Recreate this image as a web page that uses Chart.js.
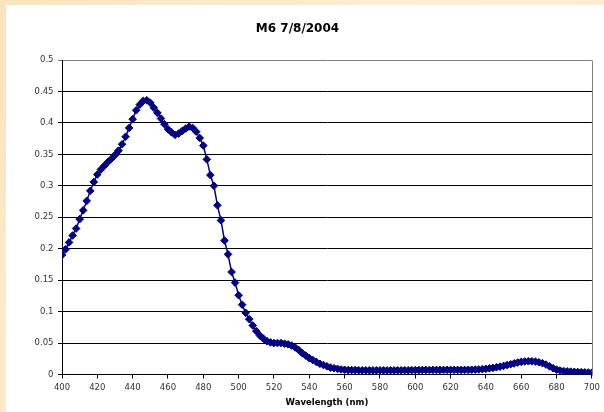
<!DOCTYPE html>
<html>
<head>
<meta charset="utf-8">
<script src="https://cdn.jsdelivr.net/npm/chart.js@4/dist/chart.umd.min.js"></script>
<style>
  html, body { margin: 0; padding: 0; background: #fbebcc; }
  #wrap { width: 604px; height: 412px; position: relative; }
  canvas { display: block; }
</style>
</head>
<body>
<div id="wrap"><canvas id="c" width="604" height="412"></canvas></div>
<script>
const chartTitle = "M6 7/8/2004";
const xAxisTitle = "Wavelength (nm)";

const wavelengths = [
  400,402,404,406,408,410,412,414,416,418,
  420,422,424,426,428,430,432,434,436,438,
  440,442,444,446,448,450,452,454,456,458,
  460,462,464,466,468,470,472,474,476,478,
  480,482,484,486,488,490,492,494,496,498,
  500,502,504,506,508,510,512,514,516,518,
  520,522,524,526,528,530,532,534,536,538,
  540,542,544,546,548,550,552,554,556,558,
  560,562,564,566,568,570,572,574,576,578,
  580,582,584,586,588,590,592,594,596,598,
  600,602,604,606,608,610,612,614,616,618,
  620,622,624,626,628,630,632,634,636,638,
  640,642,644,646,648,650,652,654,656,658,
  660,662,664,666,668,670,672,674,676,678,
  680,682,684,686,688,690,692,694,696,698,
  700
];

const absorbance = [
  0.190,0.199,0.210,0.221,0.232,0.247,0.261,0.276,0.292,0.306,
  0.318,0.326,0.332,0.338,0.343,0.349,0.356,0.366,0.378,0.392,
  0.406,0.420,0.429,0.435,0.436,0.432,0.424,0.416,0.407,0.398,
  0.390,0.385,0.381,0.383,0.387,0.391,0.394,0.392,0.386,0.376,
  0.364,0.342,0.317,0.300,0.269,0.245,0.213,0.191,0.163,0.146,
  0.126,0.111,0.098,0.088,0.078,0.069,0.062,0.057,0.053,0.051,
  0.050,0.050,0.050,0.049,0.048,0.046,0.043,0.039,0.034,0.030,
  0.026,0.023,0.020,0.017,0.015,0.013,0.011,0.010,0.009,0.008,
  0.0075,0.007,0.007,0.007,0.0068,0.0067,0.0067,0.0066,0.0066,0.0066,
  0.0066,0.0066,0.0066,0.0066,0.0066,0.0067,0.0067,0.0068,0.0068,0.0069,
  0.007,0.007,0.0071,0.0072,0.0072,0.0073,0.0073,0.0073,0.0073,0.0073,
  0.0073,0.0073,0.0073,0.0073,0.0073,0.0074,0.0076,0.0078,0.008,0.0085,
  0.009,0.0097,0.0105,0.0115,0.0125,0.0137,0.015,0.0163,0.0177,0.019,
  0.020,0.0207,0.021,0.021,0.0205,0.0195,0.018,0.0158,0.013,0.010,
  0.0078,0.0063,0.0055,0.005,0.0046,0.0043,0.004,0.0037,0.0034,0.0032,
  0.003
];

const xMin = 400, xMax = 700, xStep = 20;
const yMin = 0, yMax = 0.5, yStep = 0.05;

const points = wavelengths.map((w, i) => ({ x: w, y: absorbance[i] }));

const bgPlugin = {
  id: 'bg',
  beforeDraw(chart) {
    const ctx = chart.ctx;
    ctx.save();
    const g = ctx.createLinearGradient(0, 0, 604, 412);
    g.addColorStop(0, '#fae4c0');
    g.addColorStop(0.5, '#fcefd6');
    g.addColorStop(1, '#fae8c8');
    ctx.fillStyle = g;
    ctx.fillRect(0, 0, chart.width, chart.height);
    ctx.fillStyle = '#ffffff';
    ctx.fillRect(6, 5, chart.width - 6, chart.height - 5);
    ctx.restore();
  },
  afterDatasetsDraw(chart) {
    const { ctx, chartArea } = chart;
    ctx.save();
    ctx.strokeStyle = '#808080';
    ctx.lineWidth = 1;
    ctx.beginPath();
    const rx = Math.round(chartArea.right) + 0.5;
    ctx.moveTo(rx, Math.round(chartArea.top) + 0.5);
    ctx.lineTo(rx, Math.round(chartArea.bottom) + 0.5);
    ctx.stroke();
    ctx.restore();
  }
};

new Chart(document.getElementById('c'), {
  type: 'line',
  data: {
    datasets: [{
      data: points,
      borderColor: '#000080',
      backgroundColor: '#000080',
      borderWidth: 1.5,
      pointStyle: 'rectRot',
      pointRadius: 3.8,
      pointBorderWidth: 1,
      pointBorderColor: '#000080',
      pointBackgroundColor: '#000080',
      tension: 0,
      fill: false
    }]
  },
  options: {
    responsive: false,
    animation: false,
    devicePixelRatio: 1,
    layout: { padding: { left: 0, right: 9, top: 0, bottom: 0 } },
    plugins: {
      legend: { display: false },
      tooltip: { enabled: false },
      title: {
        display: true,
        text: chartTitle,
        color: '#000000',
        font: { family: 'DejaVu Sans', size: 12, weight: 'bold' },
        padding: { top: 21.3, bottom: 24.3 }
      }
    },
    scales: {
      x: {
        type: 'linear',
        min: xMin, max: xMax,
        afterFit(s) { s.height = 37.5; },
        ticks: {
          stepSize: xStep,
          color: '#333333',
          font: { family: 'DejaVu Sans', size: 8.5 },
          padding: 4,
          maxRotation: 0,
          autoSkip: false
        },
        grid: {
          display: true,
          drawOnChartArea: false,
          drawTicks: true,
          tickLength: 4,
          color: '#000000',
          lineWidth: 1
        },
        border: { display: true, color: '#000000', width: 1 },
        title: {
          display: true,
          text: xAxisTitle,
          color: '#000000',
          font: { family: 'DejaVu Sans', size: 8.5, weight: 'bold' },
          padding: { top: 2, bottom: 4.4 }
        }
      },
      y: {
        type: 'linear',
        min: yMin, max: yMax,
        afterFit(s) { s.width = 62; },
        ticks: {
          stepSize: yStep,
          color: '#333333',
          font: { family: 'DejaVu Sans', size: 8.5 },
          padding: 4.5,
          callback: (v) => String(Number(v.toFixed(2)))
        },
        grid: {
          display: true,
          drawOnChartArea: true,
          drawTicks: true,
          tickLength: 4,
          color: (c) => (c.tick && Math.abs(c.tick.value - yMax) < 1e-9) ? '#808080' : '#000000',
          lineWidth: 1
        },
        border: { display: true, color: '#000000', width: 1 }
      }
    }
  },
  plugins: [bgPlugin]
});
</script>
</body>
</html>
